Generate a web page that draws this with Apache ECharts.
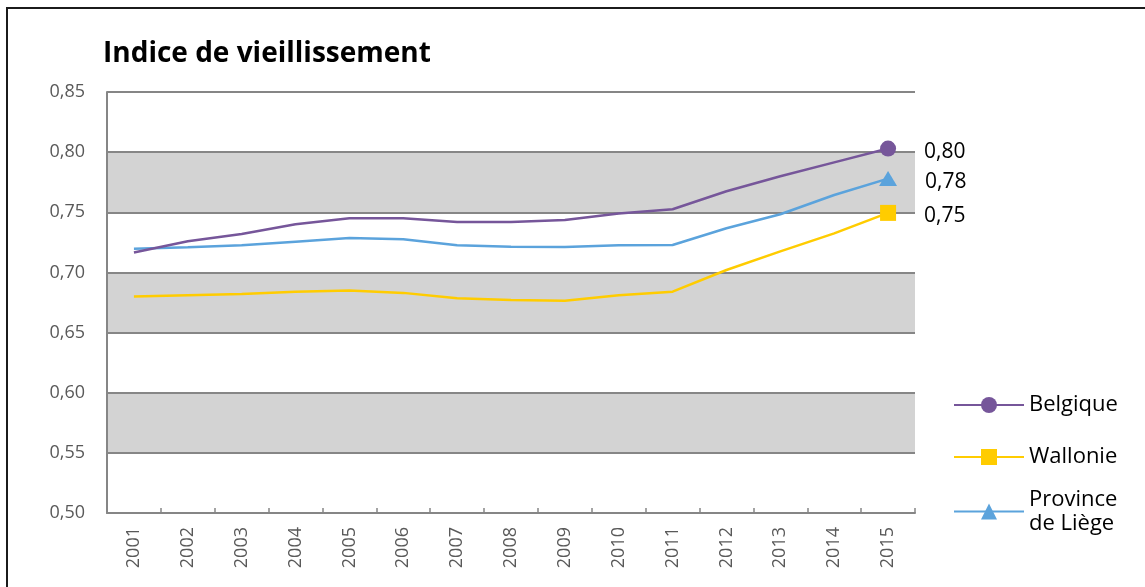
<!DOCTYPE html>
<html>
<head>
<meta charset="utf-8">
<script src="https://cdn.jsdelivr.net/npm/echarts@6/dist/echarts.min.js"></script>
<style>
html,body{margin:0;padding:0;background:#fff;}
#chart{position:absolute;left:0;top:0;width:1145px;height:587px;}
#frame{position:absolute;left:6px;top:7px;width:2000px;height:2000px;border-left:2.5px solid #1b1b1b;border-top:2.5px solid #1b1b1b;pointer-events:none;}
</style>
</head>
<body>
<div id="chart"></div>
<div id="frame"></div>
<script>
const years = ['2001','2002','2003','2004','2005','2006','2007','2008','2009','2010','2011','2012','2013','2014','2015'];
const belgique = [0.7165,0.726,0.732,0.740,0.745,0.745,0.742,0.742,0.7435,0.749,0.7525,0.7675,0.780,0.7915,0.803];
const wallonie = [0.680,0.681,0.682,0.684,0.685,0.683,0.6785,0.677,0.6765,0.681,0.684,0.702,0.7175,0.7325,0.7495];
const liege = [0.7197,0.721,0.7226,0.7256,0.7286,0.7275,0.7226,0.7213,0.7212,0.7225,0.7228,0.7367,0.7484,0.7644,0.778];
const yTicks = {min:0.5, max:0.85, interval:0.05};
const names = ['Belgique','Wallonie','Province\nde Liège'];
const colors = ['#76569a','#ffcc00','#5ba3dc'];
const symbols = ['circle','rect','triangle'];

const fmt = v => v.toFixed(2).replace('.', ',');
const FONT = 'Open Sans';

function seriesData(arr){
  return arr.map((v,i)=> i === arr.length-1 ? {value:v} : {value:v, symbol:'none'});
}

const chart = echarts.init(document.getElementById('chart'));
const legendCenters = [405, 457, 511];
const option = {
  animation:false,
  textStyle:{fontFamily:FONT},
  title:{
    text:'Indice de vieillissement',
    left:103, top:40, padding:0,
    textStyle:{fontFamily:FONT, fontWeight:'bold', fontSize:28, color:'#000'}
  },
  grid:{left:107, right:230, top:92, bottom:74},
  legend: names.map((n,i)=>({
    data:[n],
    left:953,
    top: i===2 ? legendCenters[i]-23.5 : legendCenters[i]-12,
    orient:'vertical',
    padding:0,
    itemWidth:70,
    itemHeight:20,
    textStyle:{fontFamily:FONT, fontSize:22, color:'#000', lineHeight:24},
    selectedMode:false
  })),
  xAxis:{
    type:'category',
    data:years,
    boundaryGap:true,
    axisLine:{lineStyle:{color:'#868686', width:2}},
    axisTick:{show:true, inside:true, length:5, lineStyle:{color:'#868686', width:1.5}},
    axisLabel:{rotate:90, margin:14, fontSize:18, color:'#595959', fontFamily:FONT}
  },
  yAxis:{
    type:'value',
    min:yTicks.min, max:yTicks.max, interval:yTicks.interval,
    axisLine:{show:true, lineStyle:{color:'#868686', width:2}},
    axisTick:{show:false},
    axisLabel:{formatter:fmt, fontSize:18, color:'#595959', margin:22, fontFamily:FONT},
    splitLine:{show:true, lineStyle:{color:'#868686', width:2}},
    splitArea:{show:true, areaStyle:{color:['#ffffff','#d3d3d3']}}
  },
  series:[belgique, wallonie, liege].map((arr,i)=>({
    name:names[i],
    type:'line',
    data:seriesData(arr),
    symbol:symbols[i],
    symbolSize: i===2 ? [18,15] : 16,
    color:colors[i],
    lineStyle:{width:2.5, color:colors[i]},
    itemStyle:{color:colors[i]},
    label:{
      show:true,
      position:'right',
      distance:28,
      offset:[0,3],
      fontSize:21,
      color:'#000',
      fontFamily:FONT,
      formatter:p=> p.dataIndex===arr.length-1 ? fmt(p.value) : ''
    },
    z: 3-i
  }))
};
chart.setOption(option);
</script>
</body>
</html>
